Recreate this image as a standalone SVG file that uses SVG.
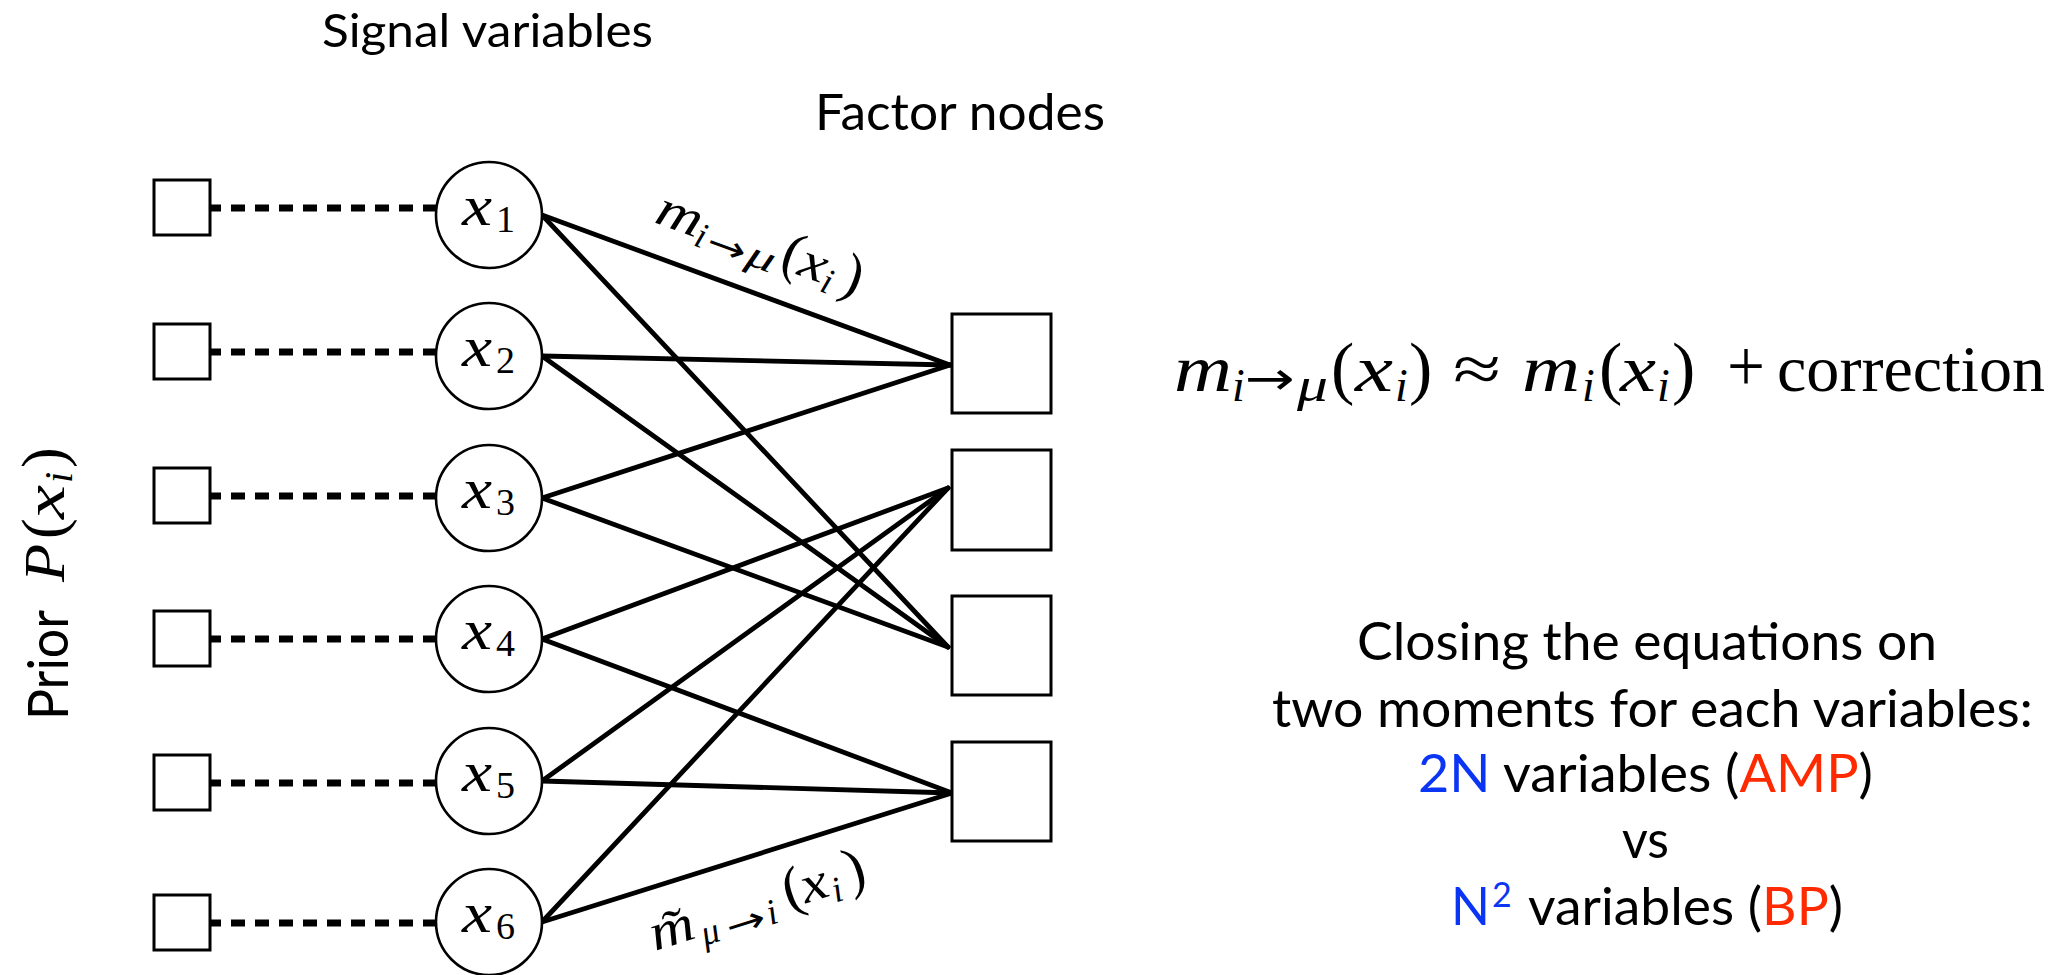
<svg xmlns="http://www.w3.org/2000/svg" width="2065" height="975" viewBox="0 0 2065 975">
<style>
.bg{fill:#fff}
.sq{fill:#fff;stroke:#000;stroke-width:3}
.var{fill:#fff;stroke:#000;stroke-width:2.6}
.edge{stroke:#000;stroke-width:4.8;stroke-linecap:round;fill:none}
.dash{stroke:#000;stroke-width:7;stroke-dasharray:14 10;fill:none}
.gs{font-family:"Lato","Open Sans",sans-serif;fill:#000}
.mi{font-family:"Liberation Serif","DejaVu Serif",serif;font-style:italic;fill:#000}
.mr{font-family:"Liberation Serif","DejaVu Serif",serif;fill:#000}
.ar{font-family:"DejaVu Sans",sans-serif;fill:#000}
.blue{fill:#0a35f5}
.red{fill:#ff2a00}
</style>
<rect class="bg" x="0" y="0" width="2065" height="975"/>

<g id="connectors">
  <line class="dash" x1="207" y1="208" x2="436" y2="208"/>
  <line class="dash" x1="207" y1="352" x2="436" y2="352"/>
  <line class="dash" x1="207" y1="496" x2="436" y2="496"/>
  <line class="dash" x1="207" y1="639" x2="436" y2="639"/>
  <line class="dash" x1="207" y1="783" x2="436" y2="783"/>
  <line class="dash" x1="207" y1="923" x2="436" y2="923"/>
  <line class="edge" x1="542" y1="215" x2="950" y2="365"/>
  <line class="edge" x1="542" y1="215" x2="948" y2="647"/>
  <line class="edge" x1="542" y1="356" x2="950" y2="365"/>
  <line class="edge" x1="542" y1="356" x2="948" y2="647"/>
  <line class="edge" x1="542" y1="498" x2="950" y2="365"/>
  <line class="edge" x1="542" y1="498" x2="948" y2="647"/>
  <line class="edge" x1="542" y1="639" x2="948" y2="488"/>
  <line class="edge" x1="542" y1="639" x2="952" y2="793"/>
  <line class="edge" x1="542" y1="781" x2="948" y2="488"/>
  <line class="edge" x1="542" y1="781" x2="952" y2="793"/>
  <line class="edge" x1="542" y1="922" x2="948" y2="488"/>
  <line class="edge" x1="542" y1="922" x2="952" y2="793"/>
</g>

<g id="prior1"><rect class="sq" x="154" y="180" width="56" height="55"/></g>
<g id="prior2"><rect class="sq" x="154" y="324" width="56" height="55"/></g>
<g id="prior3"><rect class="sq" x="154" y="468" width="56" height="55"/></g>
<g id="prior4"><rect class="sq" x="154" y="611" width="56" height="55"/></g>
<g id="prior5"><rect class="sq" x="154" y="755" width="56" height="55"/></g>
<g id="prior6"><rect class="sq" x="154" y="895" width="56" height="55"/></g>

<g id="x1"><circle class="var" cx="489" cy="215" r="53"/><text class="mi" x="462" y="225" font-size="56" textLength="30" lengthAdjust="spacingAndGlyphs">x</text><text class="mr" x="496" y="232" font-size="38">1</text></g>
<g id="x2"><circle class="var" cx="489" cy="356" r="53"/><text class="mi" x="462" y="366" font-size="56" textLength="30" lengthAdjust="spacingAndGlyphs">x</text><text class="mr" x="496" y="373" font-size="38">2</text></g>
<g id="x3"><circle class="var" cx="489" cy="498" r="53"/><text class="mi" x="462" y="508" font-size="56" textLength="30" lengthAdjust="spacingAndGlyphs">x</text><text class="mr" x="496" y="515" font-size="38">3</text></g>
<g id="x4"><circle class="var" cx="489" cy="639" r="53"/><text class="mi" x="462" y="649" font-size="56" textLength="30" lengthAdjust="spacingAndGlyphs">x</text><text class="mr" x="496" y="656" font-size="38">4</text></g>
<g id="x5"><circle class="var" cx="489" cy="781" r="53"/><text class="mi" x="462" y="791" font-size="56" textLength="30" lengthAdjust="spacingAndGlyphs">x</text><text class="mr" x="496" y="798" font-size="38">5</text></g>
<g id="x6"><circle class="var" cx="489" cy="922" r="53"/><text class="mi" x="462" y="932" font-size="56" textLength="30" lengthAdjust="spacingAndGlyphs">x</text><text class="mr" x="496" y="939" font-size="38">6</text></g>

<g id="factor1"><rect class="sq" x="952" y="314" width="99" height="99"/></g>
<g id="factor2"><rect class="sq" x="952" y="450" width="99" height="100"/></g>
<g id="factor3"><rect class="sq" x="952" y="596" width="99" height="99"/></g>
<g id="factor4"><rect class="sq" x="952" y="742" width="99" height="99"/></g>

<g id="label-signal"><text class="gs" x="322" y="47" font-size="47" textLength="331" lengthAdjust="spacingAndGlyphs">Signal variables</text></g>
<g id="label-factor"><text class="gs" x="815" y="130" font-size="51" textLength="290" lengthAdjust="spacingAndGlyphs">Factor nodes</text></g>

<g id="label-prior" transform="translate(68,720) rotate(-90)">
  <text class="gs" x="0" y="0" font-size="56" textLength="110" lengthAdjust="spacingAndGlyphs">Prior</text>
  <text class="mi" x="138" y="-4" font-size="58" textLength="38" lengthAdjust="spacingAndGlyphs">P</text>
  <text class="mr" x="181" y="-4" font-size="62">(</text>
  <text class="mi" x="201" y="-4" font-size="58" textLength="34" lengthAdjust="spacingAndGlyphs">x</text>
  <text class="mi" x="237" y="4" font-size="40">i</text>
  <text class="mr" x="252" y="-4" font-size="62">)</text>
</g>

<g id="label-m" transform="translate(653,222) rotate(20)">
  <text class="mi" x="0" y="0" font-size="52" textLength="46" lengthAdjust="spacingAndGlyphs">m</text>
  <text class="mi" x="45" y="8" font-size="36">i</text>
  <text class="ar" x="58" y="10" font-size="36" textLength="40" lengthAdjust="spacingAndGlyphs">→</text>
  <text class="mi" x="100" y="8" font-size="38" textLength="28" lengthAdjust="spacingAndGlyphs">μ</text>
  <text class="mr" x="133" y="0" font-size="58">(</text>
  <text class="mi" x="152" y="0" font-size="52" textLength="27" lengthAdjust="spacingAndGlyphs">x</text>
  <text class="mi" x="179" y="8" font-size="36">i</text>
  <text class="mr" x="197" y="0" font-size="58">)</text>
</g>

<g id="label-mtilde" transform="translate(655,951) rotate(-17.5)">
  <text class="mi" x="0" y="0" font-size="52" textLength="45" lengthAdjust="spacingAndGlyphs">m̃</text>
  <text class="mi" x="49" y="10" font-size="36">μ</text>
  <text class="ar" x="75" y="12" font-size="36" textLength="40" lengthAdjust="spacingAndGlyphs">→</text>
  <text class="mi" x="118" y="10" font-size="36">i</text>
  <text class="mr" x="140" y="0" font-size="58">(</text>
  <text class="mi" x="158" y="0" font-size="52" textLength="27" lengthAdjust="spacingAndGlyphs">x</text>
  <text class="mi" x="187" y="8" font-size="36">i</text>
  <text class="mr" x="205" y="0" font-size="58">)</text>
</g>

<g id="equation">
  <text class="mi" x="1174" y="391" font-size="66" textLength="58" lengthAdjust="spacingAndGlyphs">m</text>
  <text class="mi" x="1232" y="401" font-size="46">i</text>
  <text class="ar" x="1245" y="394" font-size="46" textLength="50" lengthAdjust="spacingAndGlyphs">→</text>
  <text class="mi" x="1297" y="401" font-size="48" textLength="31" lengthAdjust="spacingAndGlyphs">μ</text>
  <text class="mr" x="1331" y="391" font-size="70">(</text>
  <text class="mi" x="1355" y="391" font-size="66" textLength="38" lengthAdjust="spacingAndGlyphs">x</text>
  <text class="mi" x="1395" y="401" font-size="46">i</text>
  <text class="mr" x="1409" y="391" font-size="70">)</text>
  <text class="mr" x="1453" y="391" font-size="66" textLength="48" lengthAdjust="spacingAndGlyphs">≈</text>
  <text class="mi" x="1522" y="391" font-size="66" textLength="58" lengthAdjust="spacingAndGlyphs">m</text>
  <text class="mi" x="1582" y="401" font-size="46">i</text>
  <text class="mr" x="1599" y="391" font-size="70">(</text>
  <text class="mi" x="1620" y="391" font-size="66" textLength="36" lengthAdjust="spacingAndGlyphs">x</text>
  <text class="mi" x="1657" y="401" font-size="46">i</text>
  <text class="mr" x="1672" y="391" font-size="70">)</text>
  <text class="mr" x="1727" y="391" font-size="74" textLength="38" lengthAdjust="spacingAndGlyphs">+</text>
  <text class="mr" x="1777" y="391" font-size="66" textLength="268" lengthAdjust="spacingAndGlyphs">correction</text>
</g>

<g id="summary">
  <text class="gs" x="1357" y="660" font-size="52" textLength="580" lengthAdjust="spacingAndGlyphs">Closing the equations on</text>
  <text class="gs" x="1272" y="727" font-size="52" textLength="761" lengthAdjust="spacingAndGlyphs">two moments for each variables:</text>
  <text class="gs" x="1418" y="792" font-size="52" textLength="455" lengthAdjust="spacingAndGlyphs"><tspan class="blue">2N</tspan> variables (<tspan class="red">AMP</tspan>)</text>
  <text class="gs" x="1622" y="858" font-size="52" textLength="47" lengthAdjust="spacingAndGlyphs">vs</text>
  <text class="gs blue" x="1451" y="925" font-size="52" textLength="39" lengthAdjust="spacingAndGlyphs">N</text>
  <text class="gs blue" x="1492" y="907" font-size="34">2</text>
  <text class="gs" x="1528" y="925" font-size="52" textLength="315" lengthAdjust="spacingAndGlyphs">variables (<tspan class="red">BP</tspan>)</text>
</g>
</svg>
